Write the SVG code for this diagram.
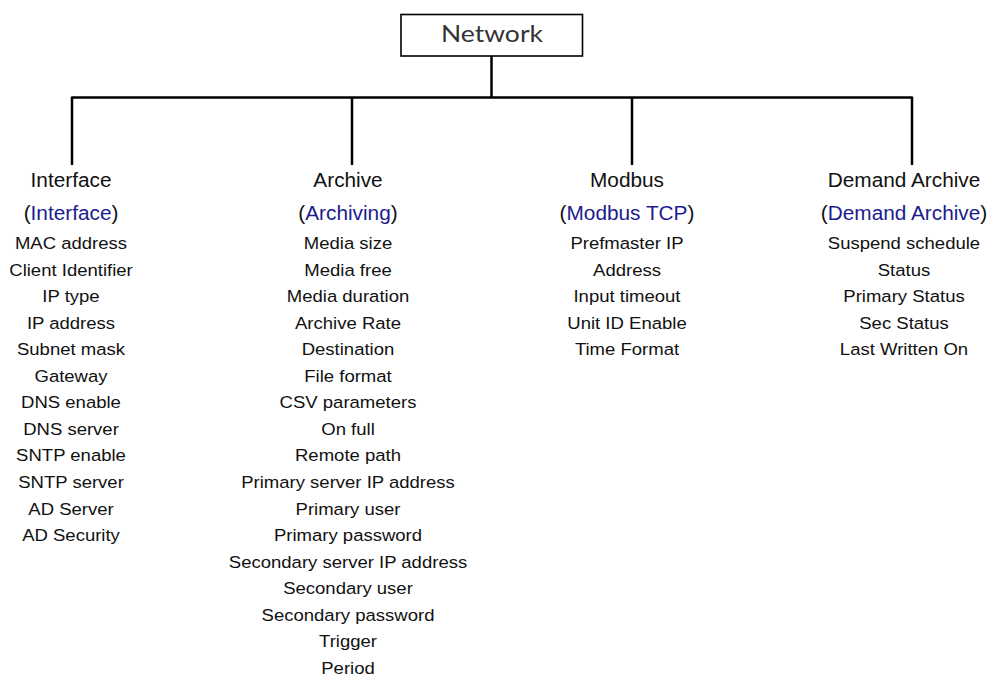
<svg xmlns="http://www.w3.org/2000/svg" width="990" height="677" viewBox="0 0 990 677">
<style>
.hd{font-family:"Liberation Sans",Arial,sans-serif;font-size:20px;fill:#111;text-anchor:middle}
.sub{font-family:"Liberation Sans",Arial,sans-serif;font-size:20px;fill:#111;text-anchor:middle}
.lnk{fill:#1c1c8f}
.it{font-family:"Liberation Sans",Arial,sans-serif;font-size:17px;fill:#111;text-anchor:middle}
.con{stroke:#000;stroke-width:2.5;fill:none}
</style>
<rect width="990" height="677" fill="#fff"/>
<g id="connectors">
<path class="con" d="M491.5 56V97.5M72 97.5H912M72 96.5V165M352 96.5V165M632 96.5V165M912 96.5V165"/>
</g>
<g id="network">
<rect x="401" y="14.5" width="181.5" height="41.5" fill="#fff" stroke="#000" stroke-width="1.6"/>
<text x="492" y="42" font-family="Lato,'Noto Sans',sans-serif" font-size="23" fill="#333" text-anchor="middle" textLength="102" lengthAdjust="spacingAndGlyphs">Network</text>
</g>
<g id="interface" transform="translate(71,0)">
<g transform="scale(1.04,1)">
<text class="hd" x="0" y="187">Interface</text>
<text class="sub" x="0" y="220">(<tspan class="lnk">Interface</tspan>)</text>
</g>
<g transform="scale(1.09,1)" class="it">
<text x="0" y="249">MAC address</text>
<text x="0" y="275.6">Client Identifier</text>
<text x="0" y="302.1">IP type</text>
<text x="0" y="328.7">IP address</text>
<text x="0" y="355.2">Subnet mask</text>
<text x="0" y="381.8">Gateway</text>
<text x="0" y="408.4">DNS enable</text>
<text x="0" y="434.9">DNS server</text>
<text x="0" y="461.5">SNTP enable</text>
<text x="0" y="488">SNTP server</text>
<text x="0" y="514.6">AD Server</text>
<text x="0" y="541.2">AD Security</text>
</g>
</g>
<g id="archive" transform="translate(348,0)">
<g transform="scale(1.04,1)">
<text class="hd" x="0" y="187">Archive</text>
<text class="sub" x="0" y="220">(<tspan class="lnk">Archiving</tspan>)</text>
</g>
<g transform="scale(1.09,1)" class="it">
<text x="0" y="249">Media size</text>
<text x="0" y="275.6">Media free</text>
<text x="0" y="302.1">Media duration</text>
<text x="0" y="328.7">Archive Rate</text>
<text x="0" y="355.2">Destination</text>
<text x="0" y="381.8">File format</text>
<text x="0" y="408.4">CSV parameters</text>
<text x="0" y="434.9">On full</text>
<text x="0" y="461.5">Remote path</text>
<text x="0" y="488">Primary server IP address</text>
<text x="0" y="514.6">Primary user</text>
<text x="0" y="541.2">Primary password</text>
<text x="0" y="567.7">Secondary server IP address</text>
<text x="0" y="594.3">Secondary user</text>
<text x="0" y="620.8">Secondary password</text>
<text x="0" y="647.4">Trigger</text>
<text x="0" y="674">Period</text>
</g>
</g>
<g id="modbus" transform="translate(627,0)">
<g transform="scale(1.04,1)">
<text class="hd" x="0" y="187">Modbus</text>
<text class="sub" x="0" y="220">(<tspan class="lnk">Modbus TCP</tspan>)</text>
</g>
<g transform="scale(1.09,1)" class="it">
<text x="0" y="249">Prefmaster IP</text>
<text x="0" y="275.6">Address</text>
<text x="0" y="302.1">Input timeout</text>
<text x="0" y="328.7">Unit ID Enable</text>
<text x="0" y="355.2">Time Format</text>
</g>
</g>
<g id="demand-archive" transform="translate(904,0)">
<g transform="scale(1.04,1)">
<text class="hd" x="0" y="187">Demand Archive</text>
<text class="sub" x="0" y="220">(<tspan class="lnk">Demand Archive</tspan>)</text>
</g>
<g transform="scale(1.09,1)" class="it">
<text x="0" y="249">Suspend schedule</text>
<text x="0" y="275.6">Status</text>
<text x="0" y="302.1">Primary Status</text>
<text x="0" y="329">Sec Status</text>
<text x="0" y="355.2">Last Written On</text>
</g>
</g>
</svg>
